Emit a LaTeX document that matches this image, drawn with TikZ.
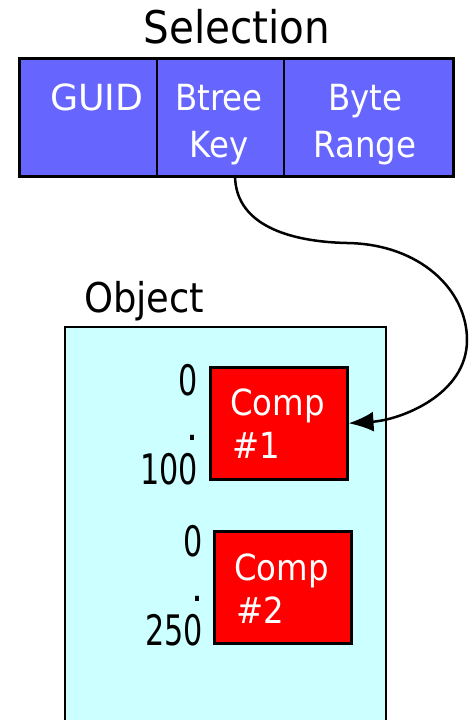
\documentclass[tikz,border=0pt]{standalone}
\usepackage{fontspec}
\setmainfont{DejaVu Sans Condensed}
\usetikzlibrary{arrows.meta}
\definecolor{selblue}{RGB}{102,102,255}
\definecolor{objcyan}{RGB}{204,255,255}
\definecolor{compred}{RGB}{255,0,0}
\begin{document}
\begin{tikzpicture}[x=1pt,y=-1pt,
  box/.style={draw=black, line width=2.5pt, inner sep=0pt, anchor=north west},
  wtxt/.style={text=white, inner sep=0pt, font=\fontsize{36}{44}\selectfont},
  btxt/.style={text=black, inner sep=0pt, font=\fontsize{42}{44}\selectfont},
  conn/.style={line width=2.5pt, -{Latex[length=25pt,width=20pt]}}]
\useasboundingbox (0,0) rectangle (470,720);
% object container (extends beyond the bottom edge)
\fill[objcyan] (65,327) rectangle (386,720);
\draw[line width=2.5pt] (65,722) -- (65,327) -- (386,327) -- (386,722);
\node[btxt, anchor=base west, font=\fontsize{41}{44}\selectfont] (objlbl) at (84,312) {Object};
% selection record
\node[anchor=base, inner sep=0pt, font=\fontsize{45}{50}\selectfont] (sellbl) at (237,43) {Selection};
\node[box, fill=selblue, minimum width=434pt, minimum height=118pt] (sel) at (18,57) {};
\draw[line width=2.5pt] (157,57) -- (157,175);
\draw[line width=2.5pt] (284,57) -- (284,175);
\node[wtxt, anchor=base west] (guid) at (50,110) {\scalebox{1.12}[1]{GUID}};
\node[wtxt, anchor=base] (btree) at (219,110) {Btree};
\node[wtxt, anchor=base] (key) at (219,157) {Key};
\node[wtxt, anchor=base] (byte) at (365,110) {Byte};
\node[wtxt, anchor=base] (range) at (365,157) {Range};
\coordinate (keyout) at (235,175);
% components
\node[box, fill=compred, minimum width=137pt, minimum height=112pt] (c1) at (209,366) {};
\node[wtxt, anchor=base west] (c1a) at (230,415) {Comp};
\node[wtxt, anchor=base west] (c1b) at (232,458) {\#1};
\node[btxt, anchor=base east] (c1lo) at (198,395) {\scalebox{0.8}[1]{0}};
\node[btxt, anchor=base east] (c1dot) at (199,440) {.};
\node[btxt, anchor=base east] (c1hi) at (198,484) {\scalebox{0.8}[1]{100}};
\node[box, fill=compred, minimum width=137pt, minimum height=112pt] (c2) at (213,530) {};
\node[wtxt, anchor=base west] (c2a) at (234,580) {Comp};
\node[wtxt, anchor=base west] (c2b) at (236,623) {\#2};
\node[btxt, anchor=base east] (c2lo) at (203,556) {\scalebox{0.8}[1]{0}};
\node[btxt, anchor=base east] (c2dot) at (204,601) {.};
\node[btxt, anchor=base east] (c2hi) at (203,645) {\scalebox{0.8}[1]{250}};
% pointer
\draw[conn] (keyout) .. controls (235,230) and (300,242) .. (347,243)
  .. controls (420,244) and (467,290) .. (467,340)
  .. controls (467,395) and (400,420) .. (c1.east);
\end{tikzpicture}
\end{document}
